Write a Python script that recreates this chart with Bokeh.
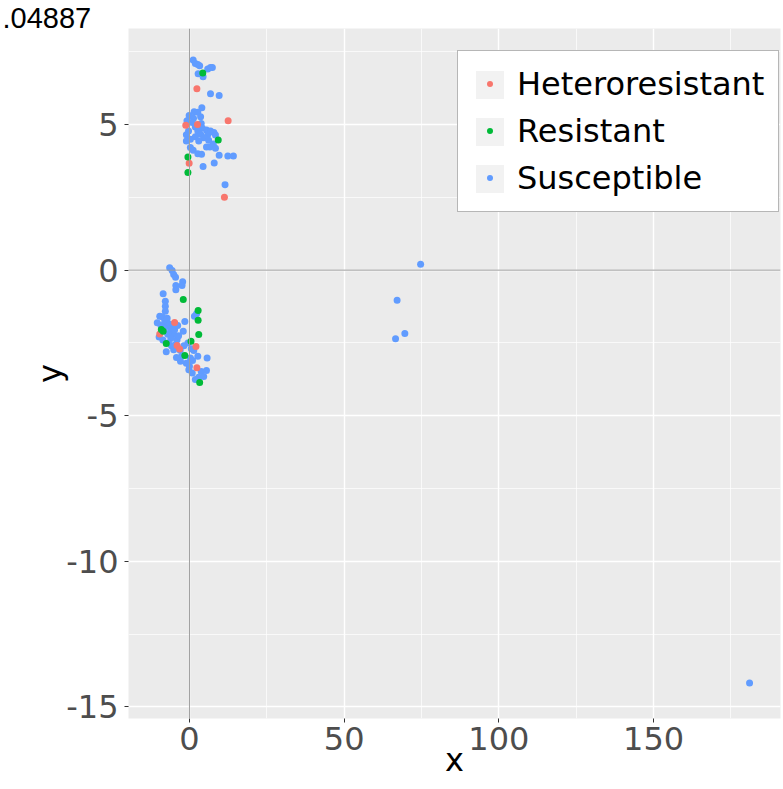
import numpy as np
from bokeh.plotting import figure
from bokeh.models import FixedTicker, Span, Legend, LegendItem
from bokeh.embed import file_html
from bokeh.resources import INLINE

# ---- data ----
categories = ["Heteroresistant", "Resistant", "Susceptible"]
colors = ["#F8766D", "#00BA38", "#619CFF"]

het_x = [2.4, -1.2, 2.6, 12.5, -0.1, 11.3, -4.8, -9.6, -4.0, -3.2, 2.1, 2.4]
het_y = [6.23, 4.98, 5.00, 5.13, 3.67, 2.50, -1.80, -2.19, -2.59, -2.71, -2.62, -3.35]

res_x = [4.3, 9.3, -0.5, -0.5, -2.0, 2.8, 2.8, -9.1, -8.5, 3.0, 0.5, -1.5, 3.3, -7.5]
res_y = [6.77, 4.47, 3.89, 3.35, -1.01, -1.39, -1.72, -2.04, -2.10, -2.21, -2.44, -2.93, -3.86, -2.52]

sus_x = [1.2, 1.9, 2.7, 3.3, 5.9, 6.8, 7.4, 2.8, 4.4, 6.8, 9.6, 4.0, 1.5, 2.7, 3.6, -0.1, 1.3,
         -0.8, 0.9, 3.8, 1.9, 4.1, -0.3, 2.7, 5.5, 6.8, 7.9, 3.6, 5.9, 8.4, -1.0, 1.9, 4.6,
         0.3, 3.0, 6.2, 7.7, 5.5, 6.6, 8.4, 0.3, 1.2, 2.7, 3.9, -1.0, 4.4, 8.0, 9.6, 12.4,
         14.2, 11.5,
         -6.4, -5.6, -5.1, -4.5, -2.2, -2.4, -4.4, -4.4, -8.5, -7.8, -7.8, -7.8, 2.3, 1.6,
         -1.5, -9.6, -10.4, -7.4, -6.1, -5.1, -4.0, -5.1, 1.4, -2.9, 0.3, 2.7, 5.7, -0.2,
         0.9, 3.8, 5.5, 3.0, 4.6, 1.9,
         -8.8, -8.0, -7.2, -6.5, -9.2, -8.2, -7.0, -6.0, -5.5, -4.8, -6.8, -5.8, -4.5, -3.5,
         -3.0, -2.5, -1.8, -1.0, 0.0, 1.0, 0.6, -0.5, -2.0, -7.5, -4.2, -9.8, -8.6, -3.8,
         74.7, 67.1, 69.6, 66.6, 181.0]
sus_y = [7.22, 7.10, 7.06, 7.02, 6.91, 6.96, 6.96, 6.75, 6.64, 6.06, 6.00, 5.58, 5.44, 5.42,
         5.27, 5.31, 5.22, 5.13, 5.07, 5.04, 4.92, 4.88, 4.78, 4.78, 4.81, 4.78, 4.73, 4.67,
         4.65, 4.64, 4.65, 4.58, 4.55, 4.50, 4.44, 4.46, 4.33, 4.23, 4.23, 4.19, 4.21, 4.12,
         4.00, 3.98, 4.44, 3.56, 3.68, 3.95, 3.92, 3.92, 2.93,
         0.08, -0.01, -0.15, -0.24, -0.40, -0.53, -0.53, -0.67, -0.81, -1.07, -1.24, -1.41,
         -1.50, -1.58, -1.76, -1.58, -1.81, -1.93, -2.10, -2.21, -2.39, -2.73, -2.76, -3.13,
         -3.02, -2.96, -3.02, -3.42, -3.53, -3.48, -3.45, -3.68, -3.65, -3.76,
         -1.60, -1.75, -1.65, -1.85, -1.90, -2.00, -2.20, -2.35, -1.95, -2.05, -2.50, -2.60,
         -2.55, -2.25, -2.75, -2.95, -2.60, -3.20, -3.30, -3.10, -2.70, -2.50, -2.10, -2.80,
         -3.00, -2.30, -2.40, -1.90,
         0.20, -1.03, -2.18, -2.36, -14.18]

x_ticks = [0, 50, 100, 150]
x_minor = [25, 75, 125, 175]
y_ticks = [-15, -10, -5, 0, 5]
y_minor = [-12.5, -7.5, -2.5, 2.5, 7.5]
y_tick_labels = {-15: "-15", -10: "-10", -5: "-5", 0: "0", 5: "5"}
title_text = ".04887"

# ---- figure ----
p = figure(width=783, height=789, x_range=(-19.7, 191), y_range=(-15.4, 8.3),
           output_backend="svg", toolbar_location=None,
           min_border_left=128, min_border_right=3, min_border_top=28, min_border_bottom=71,
           background_fill_color="#EBEBEB", border_fill_color="white",
           outline_line_color=None)

# clipped title text at the top-left
p.title.text = title_text
p.title.align = "left"
p.title.vertical_align = "top"
p.title.offset = -126
p.title.standoff = -3
p.title.text_font = "Liberation Sans"
p.title.text_font_size = "29px"
p.title.text_font_style = "normal"
p.title.text_color = "black"

p.xaxis.ticker = FixedTicker(ticks=x_ticks, minor_ticks=x_minor)
p.yaxis.ticker = FixedTicker(ticks=y_ticks, minor_ticks=y_minor)
p.yaxis.major_label_overrides = y_tick_labels
for g in (p.xgrid, p.ygrid):
    g.grid_line_color = "white"
    g.grid_line_width = 1.4
    g.minor_grid_line_color = "white"
    g.minor_grid_line_width = 0.7

for ax in (p.xaxis, p.yaxis):
    ax.axis_line_color = None
    ax.major_tick_line_color = "#333333"
    ax.major_tick_out = 4
    ax.major_tick_in = 0
    ax.minor_tick_line_color = None
    ax.major_label_text_font = "DejaVu Sans"
    ax.major_label_text_font_size = "32px"
    ax.major_label_text_color = "#4D4D4D"
    ax.axis_label_text_font = "DejaVu Sans"
    ax.axis_label_text_font_size = "32px"
    ax.axis_label_text_font_style = "normal"
    ax.axis_label_text_color = "black"
p.xaxis.axis_label = "x"
p.yaxis.axis_label = "y"
p.xaxis.major_label_standoff = 4
p.yaxis.major_label_standoff = 6
p.xaxis.axis_label_standoff = -12
p.yaxis.axis_label_standoff = -6

# zero reference lines
p.add_layout(Span(location=0, dimension="height", line_color="#9E9E9E", line_width=1))
p.add_layout(Span(location=0, dimension="width", line_color="#9E9E9E", line_width=1))

# points
r_sus = p.scatter(sus_x, sus_y, size=7, color=colors[2], line_color=None)
r_het = p.scatter(het_x, het_y, size=7, color=colors[0], line_color=None)
r_res = p.scatter(res_x, res_y, size=7, color=colors[1], line_color=None)
renderers = [r_het, r_res, r_sus]

# legend key background boxes (legend-only renderer, nothing drawn in the plot)
key_bg = p.quad(left=[np.nan], right=[np.nan], top=[np.nan], bottom=[np.nan],
                fill_color="#F2F2F2", line_color=None)

leg_common = dict(padding=14, spacing=9, label_standoff=10,
                  label_text_font="DejaVu Sans", label_text_font_size="32px",
                  glyph_height=35, label_height=38)

leg1 = Legend(items=[LegendItem(label=c, renderers=[key_bg]) for c in categories],
              location=(329, 506), glyph_width=35,
              border_line_color="#6E6E6E", border_line_width=1,
              background_fill_color="white", background_fill_alpha=1.0,
              label_text_color="black", **leg_common)
# small key dots drawn on top of the key boxes
leg2 = Legend(items=[LegendItem(label=" ", renderers=[r]) for r in renderers],
              location=(353.5, 521.5), glyph_width=15,
              border_line_color=None, background_fill_alpha=0.0, **leg_common)
p.add_layout(leg1, "center")
p.add_layout(leg2, "center")

open("out.html", "w").write(file_html(p, INLINE))
